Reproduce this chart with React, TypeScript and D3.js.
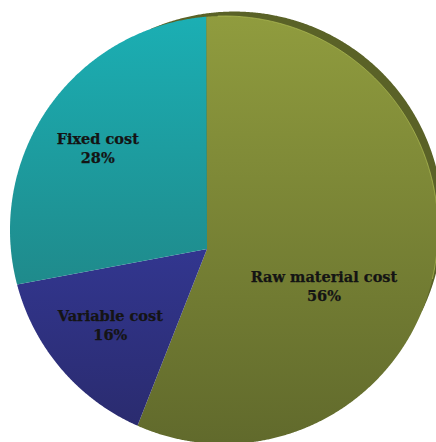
import React from "react";
import * as d3 from "d3";

// ---- data ----
const categories = ["Raw material cost", "Variable cost", "Fixed cost"];
const values = [56, 16, 28];
const percentLabels = ["56%", "16%", "28%"];

// ---- styles / layout ----
const sliceColors = [
  ["#909c3e", "#616a2c"],
  ["#32368f", "#2a2b6e"],
  ["#1bafb4", "#1f8b8c"],
];
const gradientSpans = [
  [15, 442],
  [250, 430],
  [15, 280],
];
const sideColor = "#5a6227";
const labelRadius = [0.572, 0.646, 0.685];
const labelAngleShiftDeg = [9.2, -0.7, 1.7];

const W = 436;
const H = 442;
const CX = 224;
const CY = 230;
const R = 214;
const VX = 207;
const VY = 249;

// perspective (projective) map of the unit disc that keeps the outline round
// while moving the pie apex off-centre, like a tilted 3D pie
function makeProjector() {
  const px = (VX - CX) / R;
  const py = (VY - CY) / R;
  const t = Math.hypot(px, py);
  const nx = px / t;
  const ny = py / t;
  const ch = 1 / Math.sqrt(1 - t * t);
  const sh = t * ch;
  return (theta: number, r: number): [number, number] => {
    const u = r * Math.sin(theta);
    const v = -r * Math.cos(theta);
    const d = u * nx + v * ny;
    const perpX = u - d * nx;
    const perpY = v - d * ny;
    const dp = ch * d + sh;
    const T = sh * d + ch;
    const X = (perpX + dp * nx) / T;
    const Y = (perpY + dp * ny) / T;
    return [CX + R * X, CY + R * Y];
  };
}

export default function App() {
  const project = makeProjector();
  const pie = d3.pie<number>().sort(null).value((d) => d);
  const arcs = pie(values);
  const line = d3.line<[number, number]>().curve(d3.curveLinear);

  const slicePath = (a: d3.PieArcDatum<number>) => {
    const pts: [number, number][] = [project(0, 0)];
    const n = Math.max(2, Math.ceil((a.endAngle - a.startAngle) / 0.005));
    for (let i = 0; i <= n; i++) {
      const th = a.startAngle + ((a.endAngle - a.startAngle) * i) / n;
      pts.push(project(th, 1));
    }
    return line(pts) + "Z";
  };

  // visible side (thickness) of the tilted pie, along the upper-right rim
  const sideStart = -0.25;
  const sideEnd = 1.85;
  const sideWidth = (th: number) =>
    Math.max(0, 9 * Math.cos((th - 0.8) * 1.5));
  const sidePts: [number, number][] = [project(0, 0)];
  const edgePts: [number, number][] = [];
  for (let th = sideStart; th <= sideEnd + 1e-9; th += 0.005) {
    const p = project(th, 1);
    const dx = p[0] - CX;
    const dy = p[1] - CY;
    const len = Math.hypot(dx, dy);
    const w = sideWidth(th);
    sidePts.push([p[0] + (dx / len) * w, p[1] + (dy / len) * w]);
    if (th > 0.05 && th < 1.7) edgePts.push(p);
  }

  return (
    <svg
      width={W}
      height={H}
      style={{ position: "absolute", left: 0, top: 0, background: "#fff" }}
    >
      <defs>
        {sliceColors.map((c, i) => (
          <linearGradient
            key={i}
            id={`g${i}`}
            gradientUnits="userSpaceOnUse"
            x1={0}
            y1={gradientSpans[i][0]}
            x2={0}
            y2={gradientSpans[i][1]}
          >
            <stop offset="0%" stopColor={c[0]} />
            <stop offset="100%" stopColor={c[1]} />
          </linearGradient>
        ))}
      </defs>
      <path d={line(sidePts) + "Z"} fill={sideColor} />
      {arcs.map((a, i) => (
        <path key={categories[i]} d={slicePath(a)} fill={`url(#g${i})`} />
      ))}
      <path
        d={line(edgePts) ?? ""}
        fill="none"
        stroke="#b4c057"
        strokeOpacity={0.7}
        strokeWidth={1}
      />
      {arcs.map((a, i) => {
        const mid =
          (a.startAngle + a.endAngle) / 2 +
          (labelAngleShiftDeg[i] * Math.PI) / 180;
        const [x, y] = project(mid, labelRadius[i]);
        return (
          <text
            key={"t" + i}
            x={x}
            y={y}
            textAnchor="middle"
            fontFamily="'DejaVu Serif', serif"
            fontWeight="bold"
            fontSize={14.5}
            fill="#141414"
            stroke="#141414"
            strokeWidth={0.25}
          >
            <tspan x={x} dy={-9.5}>
              {categories[i]}
            </tspan>
            <tspan x={x} dy={19}>
              {percentLabels[i]}
            </tspan>
          </text>
        );
      })}
    </svg>
  );
}
